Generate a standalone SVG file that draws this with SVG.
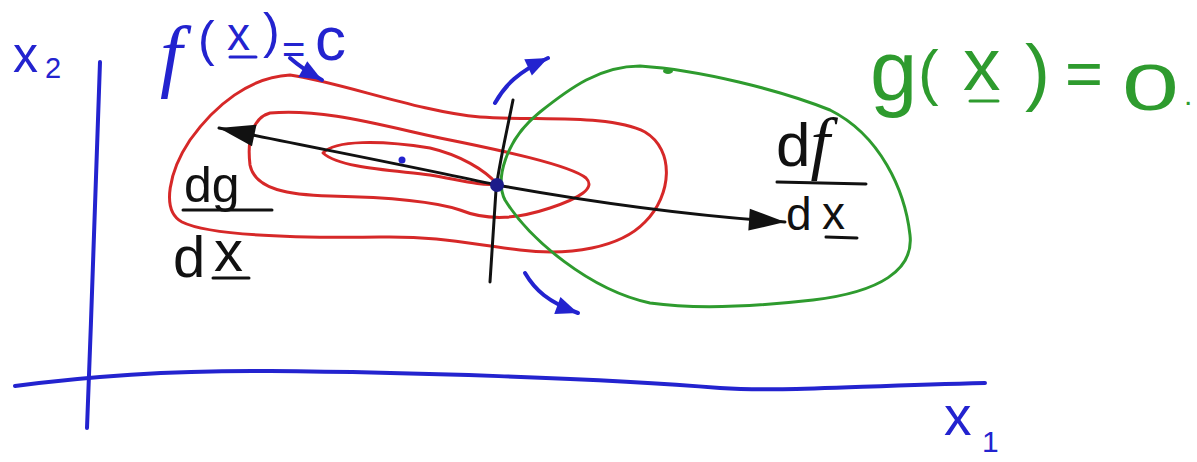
<svg xmlns="http://www.w3.org/2000/svg" width="1197" height="462" viewBox="0 0 1197 462">
<style>
.red{fill:none;stroke:#d62828;stroke-width:3;stroke-linecap:round;stroke-linejoin:round}
.grn{fill:none;stroke:#2e9b2e;stroke-width:3;stroke-linecap:round;stroke-linejoin:round}
.blu{fill:none;stroke:#2323cf;stroke-width:4;stroke-linecap:round;stroke-linejoin:round}
.blk{fill:none;stroke:#111;stroke-width:3;stroke-linecap:round;stroke-linejoin:round}
.tb{fill:#2323cf;font-family:"Liberation Sans",Arial,sans-serif}
.tg{fill:#2e9b2e;font-family:"Liberation Sans",Arial,sans-serif}
.tk{fill:#111;font-family:"Liberation Sans",Arial,sans-serif}
.fi{font-family:"Liberation Serif","Times New Roman",serif;font-style:italic}
</style>
<defs>
<marker id="ahK" markerUnits="userSpaceOnUse" markerWidth="40" markerHeight="26" refX="38" refY="13" orient="auto-start-reverse">
<path d="M2,2 L38,13 L2,24 Z" fill="#111"/>
</marker>
<marker id="ahB" markerUnits="userSpaceOnUse" markerWidth="26" markerHeight="22" refX="24" refY="11" orient="auto">
<path d="M2,2 L24,11 L2,20 Z" fill="#2323cf"/>
</marker>
</defs>

<g id="axes">
<path class="blu" d="M100,62 C97,150 92,300 87,428"/>
<path class="blu" d="M15,386 C60,380 150,370 270,371 C400,372 600,378 720,388 C780,392 850,386 985,383"/>
</g>

<g id="f-contours">
<path class="red" d="M290,75 C340,82 420,112 480,117 C540,121 610,114 645,132 C675,150 672,195 645,222 C620,248 570,256 520,250 C470,244 440,236 380,237 C300,238 210,236 182,222 C160,210 170,170 190,140 C215,105 250,77 290,75 Z"/>
<path class="red" d="M270,113 C320,108 380,125 440,138 C500,150 570,165 586,178 C596,188 580,198 550,208 C520,218 490,222 460,210 C430,200 380,197 330,196 C290,195 255,190 250,165 C247,140 252,118 270,113 Z"/>
<path class="red" d="M323,153 C335,140 380,140 430,148 C460,155 485,170 497,184 C480,186 460,180 430,175 C390,170 340,168 323,153 Z"/>
<circle cx="402" cy="160" r="3.5" fill="#2323cf"/>
</g>

<g id="g-constraint">
<path class="grn" d="M640,66 C700,70 780,90 830,110 C880,135 905,190 910,235 C914,270 880,292 813,300 C760,306 700,310 650,303 C590,290 530,240 505,200 C495,180 505,140 540,112 C570,88 600,66 640,66 Z"/>
<ellipse cx="668" cy="71" rx="5" ry="3" fill="#2e9b2e"/>
</g>

<g id="tangent">
<path class="blk" d="M513,100 C505,140 498,170 496,190 C494,220 492,250 490,282"/>
</g>

<g id="connectors">
<path class="blk" d="M219,128 C300,145 420,168 497,185 C580,200 680,215 785,222" marker-start="url(#ahK)" marker-end="url(#ahK)"/>
<path class="blu" d="M495,103 C505,85 518,72 548,58" marker-end="url(#ahB)"/>
<path class="blu" d="M525,273 C535,290 548,302 578,313" marker-end="url(#ahB)"/>
<path class="blu" d="M290,58 C298,65 306,71 322,80" marker-end="url(#ahB)"/>
</g>

<g id="point">
<circle cx="497" cy="185" r="7" fill="#1c1c8a"/>
</g>

<g id="label-x2">
<text class="tb" x="13" y="72" font-size="50">x<tspan x="45" y="78" font-size="29">2</tspan></text>
</g>

<g id="label-x1">
<text class="tb" x="944" y="435" font-size="55">x<tspan x="982" y="452" font-size="30">1</tspan></text>
</g>

<g id="label-f">
<text class="tb fi" x="160" y="82" font-size="80">f</text>
<text class="tb" x="198" y="56" font-size="50">(</text>
<text class="tb" x="227" y="50" font-size="46">x</text>
<line class="blu" x1="230" y1="57" x2="256" y2="57" style="stroke-width:3"/>
<text class="tb" x="263" y="48" font-size="50">)</text>
<text class="tb" x="282" y="63" font-size="40">=</text>
<text class="tb" x="315" y="60" font-size="62">c</text>
</g>

<g id="label-g">
<text class="tg" x="870" y="100" font-size="85">g</text>
<text class="tg" x="918" y="93" font-size="62">(</text>
<text class="tg" x="963" y="90" font-size="75">x</text>
<line class="grn" x1="970" y1="101" x2="998" y2="101"/>
<text class="tg" x="1025" y="97" font-size="75">)</text>
<text class="tg" x="1065" y="96" font-size="65">=</text>
<text class="tg" transform="translate(1122,110) scale(1.6,1)" font-size="64">0</text>
<text class="tg" x="1184" y="105" font-size="30">.</text>
</g>

<g id="label-dfdx">
<text class="tk" x="776" y="166" font-size="62">d<tspan class="fi" font-size="70">f</tspan></text>
<line class="blk" x1="777" y1="182" x2="866" y2="184"/>
<text class="tk" x="786" y="230" font-size="46">d<tspan x="822" y="229">x</tspan></text>
<line class="blk" x1="826" y1="237" x2="857" y2="238"/>
</g>

<g id="label-dgdx">
<text class="tk" x="184" y="202" font-size="50">dg</text>
<line class="blk" x1="183" y1="210" x2="272" y2="210"/>
<text class="tk" x="173" y="277" font-size="58">d<tspan x="214" y="271">x</tspan></text>
<line class="blk" x1="213" y1="278" x2="249" y2="278"/>
</g>
</svg>
